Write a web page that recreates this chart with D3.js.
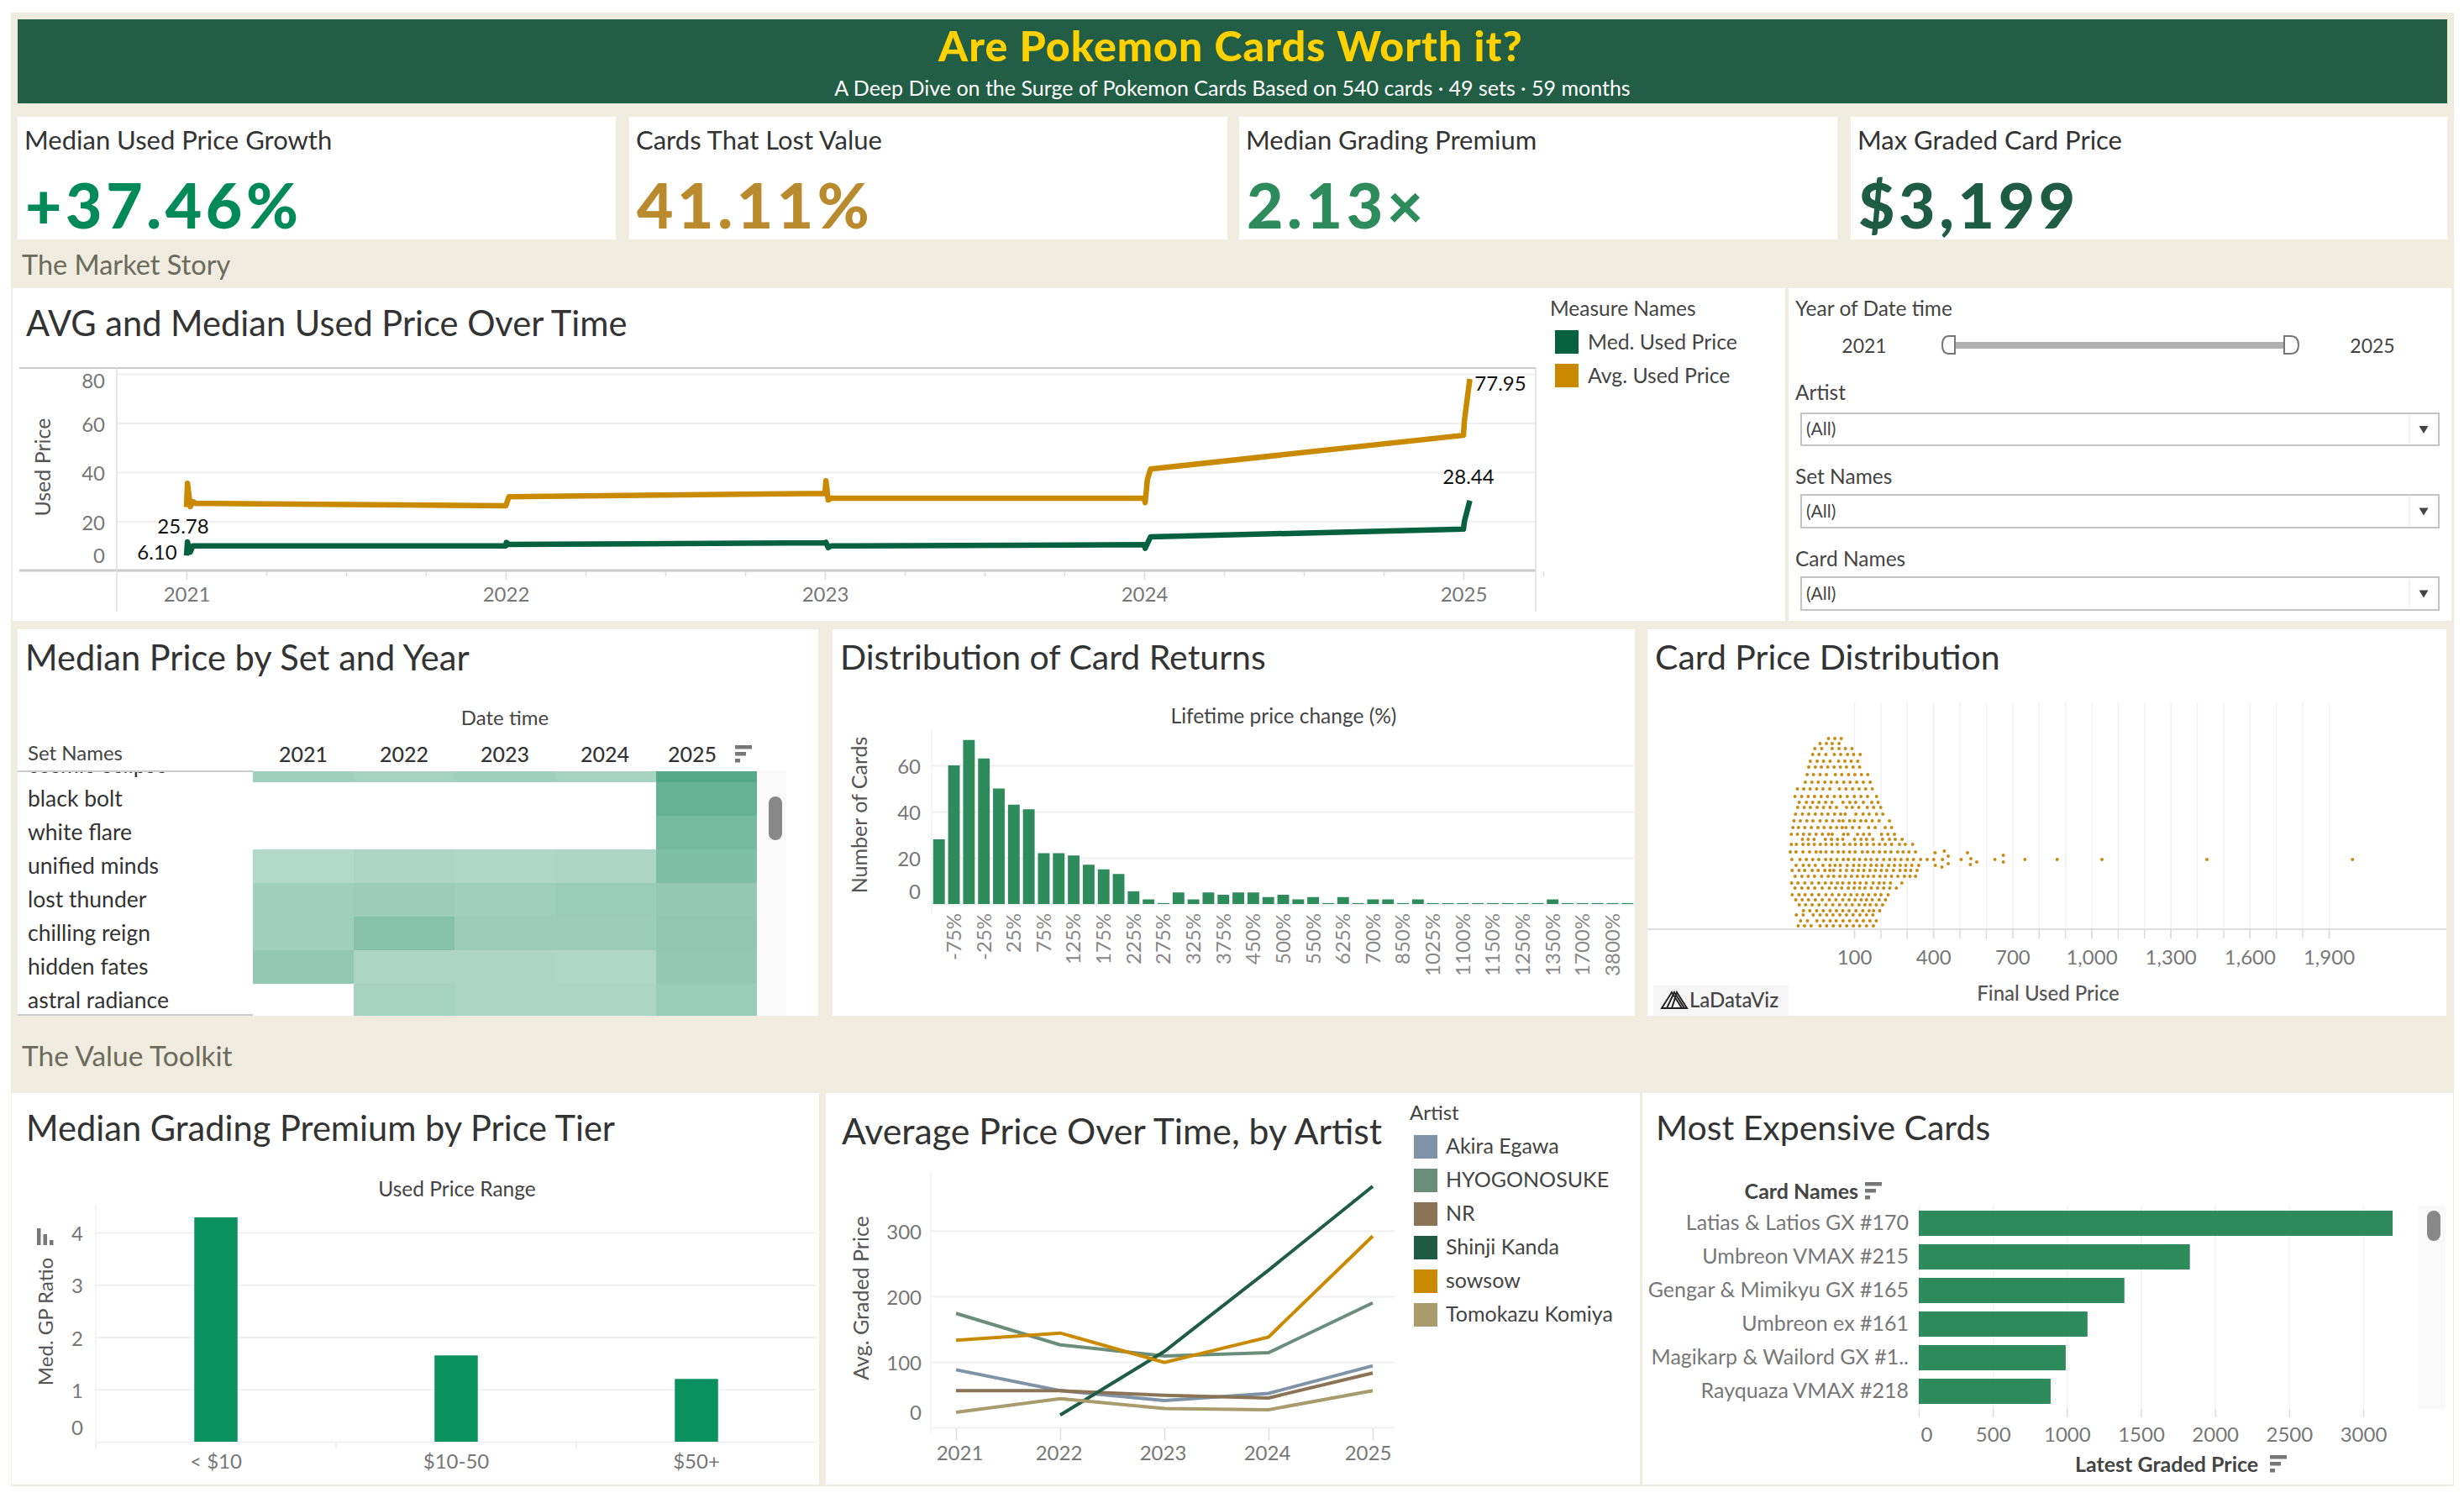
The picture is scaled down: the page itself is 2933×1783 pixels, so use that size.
<!DOCTYPE html>
<html>
<head>
<meta charset="utf-8">
<title>Are Pokemon Cards Worth it?</title>
<script src="https://cdn.jsdelivr.net/npm/d3@7/dist/d3.min.js"></script>
<style>
    html, body { margin: 0; padding: 0; background: #fff; }
    svg { display: block; }
    text { font-family: Lato, 'Noto Sans', sans-serif; }
    .domain { display: none; }
</style>
</head>
<body>
<svg id="dash" width="2933" height="1783"></svg>
<script>
// --- data ---
var kpiLabels = ['Median Used Price Growth', 'Cards That Lost Value', 'Median Grading Premium', 'Max Graded Card Price'];
var kpiValues = ['+37.46%', '41.11%', '2.13\u00d7', '$3,199'];
var kpiColors = ['#008a5a', '#b98a2e', '#2e8b5c', '#1f5c45'];

var usedDates = [2021, 2021.003, 2021.012, 2021.02, 2021.03, 2022, 2022.002, 2022.01, 2023, 2023.003, 2023.01, 2023.02, 2024, 2024.003, 2024.01, 2024.02, 2025, 2025.003, 2025.02];
var medUsed = [6.10, 11.6, 7.5, 10, 10, 10, 11.4, 10.6, 11.3, 11.5, 9.3, 10, 10.5, 9, 11, 13.7, 16.8, 20, 28.44];
var avgUsed = [25.78, 35.5, 26, 28, 27.3, 26.3, 27, 30, 31.4, 36.5, 28.7, 29.4, 29.4, 27.6, 37, 41.3, 55, 61, 77.95];
var usedTicks = [0, 20, 40, 60, 80];
var yearTicks = [2021, 2022, 2023, 2024, 2025];

var setNames = ['cosmic eclipse', 'black bolt', 'white flare', 'unified minds', 'lost thunder', 'chilling reign', 'hidden fates', 'astral radiance'];
var heat2021 = [15, null, null, 12, 15, 15, 17, null];
var heat2022 = [14, null, null, 13, 15.5, 19, 13, 14];
var heat2023 = [15, null, null, 12.5, 15, 15.5, 13, 13];
var heat2024 = [14, null, null, 13, 16, 15.5, 12.5, 13];
var heat2025 = [27, 24, 21.6, 20, 17, 17.5, 17, 16];

var returnBins = ['-100', '-75', '-50', '-25', '0', '25', '50', '75', '100', '125', '150', '175', '200', '225', '250', '275', '300', '325', '350', '375', '425', '450', '475', '500', '525', '550', '600', '625', '650', '700', '800', '850', '950', '1025', '1050', '1100', '1125', '1150', '1200', '1250', '1300', '1350', '1500', '1700', '2000', '3800', '4000'];
var returnCounts = [28, 60, 71, 63, 50, 43, 41, 22, 22, 21, 17, 15, 13, 5.5, 2, 0.4, 5, 2, 5, 4, 5, 5, 3, 4, 2, 3, 0.4, 3, 0.4, 2, 2, 0.4, 2, 0.4, 0.4, 0.4, 0.4, 0.4, 0.4, 0.4, 0.4, 2, 0.4, 0.4, 0.4, 0.4, 0.4];
var returnTicks = [0, 20, 40, 60];

// swarm: one list of prices per row, next to how far the row sits from the centre line
var swarmOffsets = [144, 138, 132, 125, 117, 110, 101, 92, 84, 75, 68, 62, 54, 46, 38, 30, 24, 18, 9, 0, -7, -13, -20, -28, -34, -42, -48, -54, -61, -66, -73, -79];
var swarmRows = [
    [3, 27, 51],
    [-29, -5, 17, 43],
    [-49, -23, 17, 43, 67, 92],
    [-57, -33, -7, 25, 49, 75, 98, 123],
    [-66, -40, -16, 9, 41, 65, 89, 114],
    [-72, -47, -24, 0, 24, 48, 71, 96, 121],
    [-78, -54, -29, -5, 29, 53, 79, 103, 128, 152],
    [-85, -60, -36, -11, 13, 35, 61, 85, 110, 135, 161],
    [-115, -91, -67, -42, -18, 8, 44, 69, 94, 119, 144, 169],
    [-124, -99, -74, -50, -25, -1, 25, 48, 74, 101, 126, 151, 185],
    [-108, -81, -57, -33, -8, 16, 58, 84, 106, 135, 167, 191],
    [-114, -89, -66, -40, -16, 9, 33, 71, 93, 118, 150, 174, 201],
    [-122, -96, -72, -47, -22, 1, 26, 49, 66, 107, 134, 157, 185, 209],
    [-128, -104, -79, -56, -29, -5, 19, 43, 58, 83, 101, 125, 145, 169, 195, 234],
    [-132, -111, -87, -62, -37, -14, 11, 34, 55, 69, 94, 120, 155, 180, 218, 242],
    [-138, -115, -92, -69, -44, -20, 3, 17, 60, 77, 113, 136, 158, 204, 228, 253],
    [-96, -74, -52, -9, 14, 37, 57, 102, 126, 147, 171, 208, 234, 256, 282],
    [-138, -119, -94, -73, -51, -28, -7, 15, 36, 62, 84, 105, 127, 149, 174, 196, 218, 242, 272, 294, 322],
    [-142, -120, -94, -69, -44, -27, -7, 17, 40, 60, 83, 104, 131, 151, 173, 196, 218, 240, 265, 286, 308, 333],
    [-136, -105, -81, -57, -34, -8, 12, 35, 59, 78, 100, 121, 144, 164, 187, 212, 235, 255, 278, 302, 325, 352, 377],
    [-120, -93, -71, -47, -18, 8, 28, 48, 74, 98, 119, 140, 164, 185, 206, 231, 253, 275, 296, 319, 345],
    [-135, -109, -87, -59, -36, -11, 8, 23, 48, 71, 94, 116, 137, 160, 181, 203, 224, 249, 274, 295, 315, 339],
    [-124, -98, -74, -50, -23, 2, 23, 46, 67, 90, 112, 134, 153, 174, 198, 219, 242, 266, 291, 312, 333],
    [-137, -113, -87, -60, -34, -9, 14, 37, 57, 81, 102, 123, 146, 172, 195, 214, 238, 281],
    [-124, -98, -74, -49, -21, 6, 30, 53, 78, 100, 121, 141, 165, 189, 212, 235, 260],
    [-135, -109, -86, -60, -34, -7, 17, 42, 65, 88, 111, 133, 155, 180, 202, 229],
    [-121, -97, -73, -47, -21, 6, 31, 57, 81, 104, 127, 147, 169, 195, 219],
    [-108, -84, -59, -33, -7, 19, 45, 69, 93, 119, 141, 161, 184, 208],
    [-92, -68, -42, -17, 9, 33, 57, 81, 107, 133, 157, 174, 197],
    [-119, -93, -55, -29, -4, 20, 46, 71, 96, 122, 147, 171],
    [-103, -77, -41, -16, 9, 32, 58, 83, 110, 135, 160, 184],
    [-112, -88, -63, -29, -4, 21, 47, 72, 97, 121, 147, 173]
];
var outlierPrices = [407, 442, 457, 402, 435, 408, 433, 457, 530, 543, 506, 565, 541, 634, 666, 666, 748, 870, 1040, 1438, 1990];
var outlierOffsets = [8, 10, 4, 0, 0, -7, -9, -5, 8, 1, 0, -3, -6, 0, 5, -3, 0, 0, 0, 0, 0];
var priceTicks = [100, 400, 700, 1000, 1300, 1600, 1900];
var priceGrid = d3.range(100, 2000, 100);

var priceTiers = ['< $10', '$10-50', '$50+'];
var premiumValues = [4.29, 1.65, 1.2];
var premiumTicks = [0, 1, 2, 3, 4];

var artistNames = ['Akira Egawa', 'HYOGONOSUKE', 'NR', 'Shinji Kanda', 'sowsow', 'Tomokazu Komiya'];
var artistColors = ['#7f93a8', '#6b8e7a', '#8b7355', '#1f5c45', '#c98a00', '#a89b6c'];
var akiraPrices = [88, 56, 41, 52, 94];
var hyogoPrices = [174, 126, 109, 114, 190];
var nrPrices = [56, 56, 49, 45, 83];
var shinjiPrices = [null, 19, 116, 240, 368];
var sowsowPrices = [133, 144, 99, 138, 292];
var tomokazuPrices = [23, 44, 29, 27, 56];
var gradedTicks = [0, 100, 200, 300];

var cardNames = ['Latias & Latios GX #170', 'Umbreon VMAX #215', 'Gengar & Mimikyu GX #165', 'Umbreon ex #161', 'Magikarp & Wailord GX #1..', 'Rayquaza VMAX #218'];
var cardPrices = [3199, 1830, 1388, 1139, 992, 890];
var cardTicks = [0, 500, 1000, 1500, 2000, 2500, 3000];

// --- helpers ---
var GREEN = '#2e8b5c', TICK = '#777', AXIS_TITLE = '#555', DARK = '#333', GRID = '#f0f0f0';
var svg = d3.select('#dash');

function label(str, x, y, size, fill, opts) {
    opts = opts || {};
    var t = (opts.parent || svg).append('text')
        .attr('x', x)
        .attr('y', y)
        .attr('dy', '.35em')
        .attr('text-anchor', opts.anchor || 'start')
        .style('font-size', size + 'px')
        .style('font-weight', opts.weight || 400)
        .style('letter-spacing', opts.spacing || null)
        .style('fill', fill)
        .text(str);
    if (opts.rotate) {
        t.attr('transform', 'rotate(-90,' + x + ',' + y + ')').attr('text-anchor', 'middle');
    }
    return t;
}

function box(x, y, x2, y2, fill, stroke) {
    return svg.append('rect')
        .attr('x', x).attr('y', y)
        .attr('width', x2 - x).attr('height', y2 - y)
        .style('fill', fill)
        .style('stroke', stroke || 'none');
}

function hline(x, x2, y, color, w) {
    svg.append('line').attr('x1', x).attr('x2', x2).attr('y1', y).attr('y2', y)
        .style('stroke', color).style('stroke-width', w || 2);
}

function vline(x, y, y2, color, w) {
    svg.append('line').attr('x1', x).attr('x2', x).attr('y1', y).attr('y2', y2)
        .style('stroke', color).style('stroke-width', w || 1.5);
}

function sortIcon(x, y) {
    [20, 13, 6].forEach(function (w, i) {
        box(x, y + i * 8, x + w, y + i * 8 + 4.5, '#777');
    });
}

// y axis with grid lines; the lowest and highest labels get nudged inside like Tableau does
function valueAxis(scale, ticks, x, x2, labelX, shifts) {
    var g = svg.append('g')
        .attr('transform', 'translate(' + x + ',0)')
        .call(d3.axisLeft(scale).tickValues(ticks).tickFormat(d3.format('d')).tickSizeInner(-(x2 - x)).tickSizeOuter(0).tickPadding(x - labelX));
    g.selectAll('line').style('stroke', GRID).style('stroke-width', 2);
    g.selectAll('text')
        .attr('y', function (d) { return (shifts && shifts[d]) || 2; })
        .style('font-size', '24px')
        .style('fill', TICK);
    return g;
}

function bottomAxis(axis, axisY, labelY) {
    var g = svg.append('g')
        .attr('transform', 'translate(0,' + axisY + ')')
        .call(axis.tickSizeOuter(0));
    g.selectAll('line').style('stroke', '#ddd').style('stroke-width', 1.5);
    g.selectAll('text')
        .attr('y', labelY - axisY)
        .attr('dy', '.35em')
        .style('font-size', '24px')
        .style('fill', TICK);
    return g;
}

// --- page frame ---
box(13, 15, 2921, 1769, '#f0ede0');
box(21, 23, 2913, 123, '#215e45');
label('Are Pokemon Cards Worth it?', 1465, 55, 50, '#ffd100', { anchor: 'middle', weight: 900, spacing: '1.1px' });
label('A Deep Dive on the Surge of Pokemon Cards Based on 540 cards \u00b7 49 sets \u00b7 59 months', 1467, 105, 25, '#fff', { anchor: 'middle' });

var kpiBoxes = [[21, 733], [749, 1461], [1475, 2187], [2203, 2913]];
kpiBoxes.forEach(function (b, i) {
    box(b[0], 139, b[1], 285, '#fff');
    label(kpiLabels[i], b[0] + 8, 167, 31, DARK);
    svg.append('text')
        .attr('x', b[0] + 9)
        .attr('y', 272)
        .style('font-size', '75px')
        .style('font-weight', 900)
        .style('letter-spacing', '4.6px')
        .style('fill', kpiColors[i])
        .text(kpiValues[i]);
});

label('The Market Story', 26, 316, 32.5, '#6b6b5c');
label('The Value Toolkit', 26, 1257, 33.5, '#6b6b5c');

box(15, 343, 2125, 739, '#fff');
box(2129, 343, 2918, 739, '#fff');
box(21, 749, 974, 1209, '#fff');
box(991, 749, 1946, 1209, '#fff');
box(1961, 749, 2912, 1209, '#fff');
box(14, 1301, 975, 1767, '#fff');
box(983, 1301, 1952, 1767, '#fff');
box(1955, 1301, 2920, 1767, '#fff');

// --- used price over time ---
label('AVG and Median Used Price Over Time', 31, 385, 41.6, DARK);

var usedX = d3.scaleLinear().domain([2021, 2025]).range([222, 1742]);
var usedY = d3.scaleLinear().domain([0, 80]).range([679, 445]);

valueAxis(usedY, usedTicks, 139, 1828, 125, { 0: -17, 80: 9 });
hline(23, 1828, 438, '#ccc');
hline(23, 1828, 679, '#ccc', 3);
vline(139, 438, 728, '#ddd');
vline(1828, 438, 728, '#ddd');
bottomAxis(d3.axisBottom(usedX).tickValues(d3.range(2021, 2025.3, 0.25)).tickSizeInner(6).tickFormat(''), 680, 708);
bottomAxis(d3.axisBottom(usedX).tickValues(yearTicks).tickSizeInner(10).tickFormat(d3.format('d')), 680, 708);
label('Used Price', 51, 556, 25, AXIS_TITLE, { rotate: true });

var usedLine = d3.line()
    .x(function (d) { return usedX(d[0]); })
    .y(function (d) { return usedY(d[1]); });

[[medUsed, '#05613f'], [avgUsed, '#c98a00']].forEach(function (s) {
    svg.append('path')
        .datum(d3.zip(usedDates, s[0]))
        .attr('d', usedLine)
        .style('fill', 'none')
        .style('stroke', s[1])
        .style('stroke-width', 6.5)
        .style('stroke-linejoin', 'round');
});
label('77.95', 1786, 457, 24, '#111', { anchor: 'middle' });
label('28.44', 1748, 568, 24, '#111', { anchor: 'middle' });
label('25.78', 218, 627, 24, '#111', { anchor: 'middle' });
label('6.10', 187, 658, 24, '#111', { anchor: 'middle' });

label('Measure Names', 1845, 367, 24.5, '#444');
[['Med. Used Price', '#05613f'], ['Avg. Used Price', '#c98a00']].forEach(function (d, i) {
    box(1851, 393 + i * 40, 1879, 421 + i * 40, d[1]);
    label(d[0], 1890, 407 + i * 40, 24.8, '#444');
});

// --- filters ---
label('Year of Date time', 2137, 367, 24.5, '#444');
label('2021', 2219, 412, 23, '#444', { anchor: 'middle' });
label('2025', 2824, 412, 23, '#444', { anchor: 'middle' });
box(2327, 407, 2719, 415, '#b0b0b0');
svg.append('path').attr('d', 'M2327,400 H2320 Q2312,400 2312,410.5 Q2312,421 2320,421 H2327 Z')
    .style('fill', '#fff').style('stroke', '#777').style('stroke-width', 2);
svg.append('path').attr('d', 'M2719,400 H2726 Q2736,400 2736,410.5 Q2736,421 2726,421 H2719 Z')
    .style('fill', '#fff').style('stroke', '#777').style('stroke-width', 2);

[['Artist', 467, 492, 530], ['Set Names', 567, 589, 628], ['Card Names', 665, 687, 726]].forEach(function (f) {
    label(f[0], 2137, f[1], 24.5, '#444');
    box(2144, f[2], 2903, f[3], '#fff', '#c4c4c4').style('stroke-width', 2);
    vline(2868, f[2] + 2, f[3] - 2, '#eee');
    label('(All)', 2150, (f[2] + f[3]) / 2, 21, '#444');
    var cx = 2885, cy = (f[2] + f[3]) / 2;
    svg.append('path')
        .attr('d', 'M' + (cx - 5.5) + ',' + (cy - 4) + ' h11 l-5.5,9 z')
        .style('fill', '#444');
});

// --- heat map ---
label('Median Price by Set and Year', 30, 783, 41.6, DARK);
label('Date time', 601, 855, 24, '#444', { anchor: 'middle' });
label('Set Names', 33, 897, 24, '#444');

var heatX = d3.scaleBand().domain(yearTicks).range([301, 901]);
var heatY = d3.scaleBand().domain(setNames).range([891, 1211]);
var heatColor = d3.scaleLinear().domain([0, 40]).range(['#ffffff', '#007f4f']);
var heatColumns = [heat2021, heat2022, heat2023, heat2024, heat2025];

svg.append('clipPath').attr('id', 'heat-clip')
    .append('rect').attr('x', 21).attr('y', 918).attr('width', 880).attr('height', 291);
var heat = svg.append('g').attr('clip-path', 'url(#heat-clip)');

heatColumns.forEach(function (col, c) {
    var cells = col.map(function (v, r) { return { value: v, set: setNames[r] }; })
        .filter(function (d) { return d.value !== null; });
    heat.selectAll('.c' + c)
        .data(cells)
        .enter().append('rect')
        .attr('class', 'c' + c)
        .attr('x', heatX(yearTicks[c]))
        .attr('y', function (d) { return heatY(d.set); })
        .attr('width', heatX.bandwidth())
        .attr('height', heatY.bandwidth())
        .style('fill', function (d) { return heatColor(d.value); });
});
setNames.forEach(function (name) {
    label(name, 33, heatY(name) + heatY.bandwidth() / 2, 26.5, '#333', { parent: heat });
});
[361, 481, 601, 720, 824].forEach(function (x, i) {
    label(yearTicks[i], x, 898, 25, '#333', { anchor: 'middle', weight: 500 });
});
sortIcon(875, 887);
hline(21, 301, 918, '#ccc');
hline(21, 301, 1208, '#ccc');
box(903, 917, 936, 1209, '#f9f9f9');
box(915, 948, 931, 1000, '#888').attr('rx', 8);

// --- distribution of returns ---
label('Distribution of Card Returns', 1000, 783, 41, DARK);
label('Lifetime price change (%)', 1528, 852, 24.5, '#444', { anchor: 'middle' });

var retX = d3.scaleBand().domain(returnBins).range([1109, 1946]).paddingInner(0.22).paddingOuter(0.1);
var retY = d3.scaleLinear().domain([0, 60]).range([1076, 911]);

valueAxis(retY, returnTicks, 1109, 1945, 1096, { 0: -14 });
vline(1109, 868, 1088, '#f2f2f2');
svg.selectAll('.ret')
    .data(returnCounts)
    .enter().append('rect')
    .attr('class', 'ret')
    .attr('x', function (d, i) { return retX(returnBins[i]); })
    .attr('y', function (d) { return retY(d); })
    .attr('width', retX.bandwidth())
    .attr('height', function (d) { return retY(0) - retY(d); })
    .style('fill', GREEN);

var retAxis = svg.append('g')
    .attr('transform', 'translate(0,1076)')
    .call(d3.axisBottom(retX)
        .tickValues(returnBins.filter(function (d, i) { return i % 2 === 1; }))
        .tickFormat(function (d) { return d + '%'; })
        .tickSizeInner(0).tickSizeOuter(0));
retAxis.selectAll('text')
    .attr('x', -11)
    .attr('y', 0)
    .attr('dy', '.35em')
    .attr('transform', 'rotate(-90)')
    .style('text-anchor', 'end')
    .style('font-size', '24px')
    .style('fill', '#888');
label('Number of Cards', 1023, 970, 25, AXIS_TITLE, { rotate: true });

// --- card price swarm ---
label('Card Price Distribution', 1970, 783, 41, DARK);

var swarmX = d3.scaleLinear().domain([100, 1900]).range([2207, 2772]);
var swarmY = d3.scaleLinear().domain([-83, 187]).range([1106, 836]);

var swarmGrid = svg.append('g')
    .attr('transform', 'translate(0,1106)')
    .call(d3.axisTop(swarmX).tickValues(priceGrid).tickSizeInner(270).tickSizeOuter(0).tickFormat(''));
swarmGrid.selectAll('line').style('stroke', '#f1f1f1').style('stroke-width', 1.5);
bottomAxis(d3.axisBottom(swarmX).tickValues(priceGrid).tickSizeInner(11).tickFormat(''), 1106, 1140);
bottomAxis(d3.axisBottom(swarmX).tickValues(priceTicks).tickSizeInner(11).tickFormat(d3.format(',')), 1106, 1140);
hline(1961, 2912, 1106, '#ddd');
label('Final Used Price', 2438, 1183, 24, '#555', { anchor: 'middle', weight: 500 });

swarmRows.forEach(function (row, r) {
    svg.selectAll('.swarm' + r)
        .data(row)
        .enter().append('circle')
        .attr('class', 'swarm' + r)
        .attr('cx', function (d) { return swarmX(d); })
        .attr('cy', swarmY(swarmOffsets[r]))
        .attr('r', 2)
        .style('fill', '#c98a14');
});
svg.selectAll('.outlier')
    .data(outlierPrices)
    .enter().append('circle')
    .attr('class', 'outlier')
    .attr('cx', function (d) { return swarmX(d); })
    .attr('cy', function (d, i) { return swarmY(outlierOffsets[i]); })
    .attr('r', 2)
    .style('fill', '#c98a14');

box(1968, 1173, 2129, 1209, '#f6f6f6');
['M1978,1200 L1990,1181 L2002,1200 Z', 'M1984,1200 L1993,1181 L2005,1200 Z', 'M1990,1200 L1996,1181 L2008,1200 Z'].forEach(function (p) {
    svg.append('path').attr('d', p).style('fill', 'none').style('stroke', '#222').style('stroke-width', 2);
});
label('LaDataViz', 2011, 1191, 24, '#444', { weight: 500 });

// --- grading premium ---
label('Median Grading Premium by Price Tier', 31, 1343, 41.6, DARK);
label('Used Price Range', 544, 1415, 24.5, '#444', { anchor: 'middle' });

var tierX = d3.scaleBand().domain(priceTiers).range([114, 972]).paddingInner(0.82).paddingOuter(0.41);
var premY = d3.scaleLinear().domain([0, 4]).range([1716, 1467]);

valueAxis(premY, premiumTicks, 114, 972, 99, { 0: -16 });
vline(114, 1435, 1725, '#f2f2f2');
svg.selectAll('.prem')
    .data(premiumValues)
    .enter().append('rect')
    .attr('class', 'prem')
    .attr('x', function (d, i) { return tierX(priceTiers[i]); })
    .attr('y', function (d) { return premY(d); })
    .attr('width', tierX.bandwidth())
    .attr('height', function (d) { return premY(0) - premY(d); })
    .style('fill', '#0a9160');
bottomAxis(d3.axisBottom(tierX).tickSizeInner(0), 1716, 1740);
[114, 400, 686].forEach(function (x) { vline(x, 1717, 1725, '#eee'); });
label('Med. GP Ratio', 55, 1573, 24, AXIS_TITLE, { rotate: true });
[20, 13, 6].forEach(function (h, i) { box(44 + i * 7.5, 1482 - h, 48.5 + i * 7.5, 1482, '#777'); });

// --- price by artist ---
label('Average Price Over Time, by Artist', 1002, 1347, 42.8, DARK);

var artistX = d3.scaleLinear().domain([2021, 2025]).range([1138, 1634]);
var artistY = d3.scaleLinear().domain([0, 300]).range([1699, 1465]);
var artistSeries = [akiraPrices, hyogoPrices, nrPrices, shinjiPrices, sowsowPrices, tomokazuPrices];
var artistTickShift = { 2021: 4, 2022: -2, 2023: -2, 2024: -2, 2025: -6 };

valueAxis(artistY, gradedTicks, 1108, 1660, 1097, { 0: -17 });
vline(1108, 1395, 1705, '#f2f2f2');
bottomAxis(d3.axisBottom(artistX).tickValues(yearTicks).tickSizeInner(14).tickFormat(d3.format('d')), 1700, 1730)
    .selectAll('text')
    .attr('x', function (d) { return artistTickShift[d]; });
label('Avg. Graded Price', 1025, 1545, 25, AXIS_TITLE, { rotate: true });

var artistLine = d3.line()
    .defined(function (d) { return d !== null; })
    .x(function (d, i) { return artistX(yearTicks[i]); })
    .y(function (d) { return artistY(d); });

artistSeries.forEach(function (s, i) {
    svg.append('path')
        .datum(s)
        .attr('d', artistLine)
        .style('fill', 'none')
        .style('stroke', artistColors[i])
        .style('stroke-width', 4);
});

label('Artist', 1678, 1325, 24, '#444');
artistNames.forEach(function (name, i) {
    box(1683, 1351 + i * 40, 1711, 1379 + i * 40, artistColors[i]);
    label(name, 1721, 1364 + i * 40, 25, '#444');
});

// --- most expensive cards ---
label('Most Expensive Cards', 1971, 1343, 41, DARK);
label('Card Names', 2212, 1418, 25, '#444', { anchor: 'end', weight: 700 });
sortIcon(2220, 1407);

var cardX = d3.scaleLinear().domain([0, 3000]).range([2284, 2813]);
var cardY = d3.scaleBand().domain(cardNames).range([1436, 1676]).paddingInner(0.25).paddingOuter(0.125);

var cardGrid = svg.append('g')
    .attr('transform', 'translate(0,1677)')
    .call(d3.axisTop(cardX).tickValues(cardTicks).tickSizeInner(242).tickSizeOuter(0).tickFormat(''));
cardGrid.selectAll('line').style('stroke', '#f1f1f1').style('stroke-width', 1.5);

svg.selectAll('.card')
    .data(cardPrices)
    .enter().append('rect')
    .attr('class', 'card')
    .attr('x', cardX(0))
    .attr('y', function (d, i) { return cardY(cardNames[i]); })
    .attr('width', function (d) { return cardX(d) - cardX(0); })
    .attr('height', cardY.bandwidth())
    .style('fill', GREEN);

var cardAxis = svg.append('g')
    .attr('transform', 'translate(2284,0)')
    .call(d3.axisLeft(cardY).tickSize(0).tickPadding(12));
cardAxis.selectAll('text').style('font-size', '25px').style('fill', TICK);

var cardBottom = bottomAxis(d3.axisBottom(cardX).tickValues(cardTicks).tickSizeInner(10).tickFormat(d3.format('d')), 1677, 1708);
cardBottom.selectAll('text').filter(function (d) { return d === 0; }).attr('x', 9);
label('Latest Graded Price', 2470, 1743, 25, '#444', { weight: 700 });
sortIcon(2702, 1732);
box(2878, 1435, 2911, 1677, '#f9f9f9');
box(2889, 1441, 2905, 1477, '#888').attr('rx', 8);
</script>
</body>
</html>
